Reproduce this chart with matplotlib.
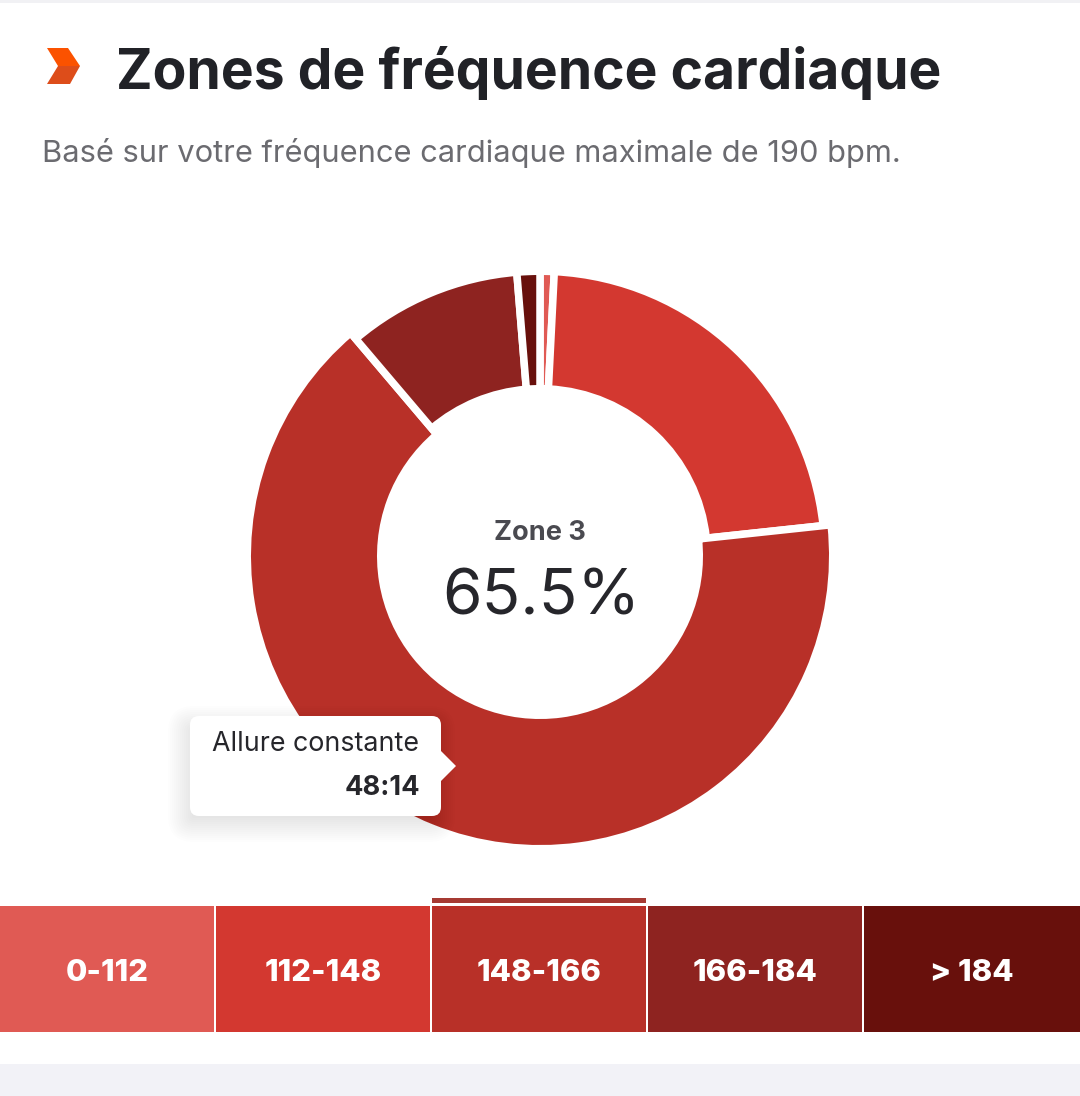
import matplotlib
matplotlib.use("Agg")
import matplotlib.pyplot as plt
from matplotlib.patches import FancyBboxPatch, Polygon, Rectangle

plt.rcParams['font.family'] = ['Inter', 'DejaVu Sans']

# Time share per heart-rate zone, in percent
zone_ranges = ['0-112', '112-148', '148-166', '166-184', '> 184']
zone_shares = [0.8, 22.5, 65.5, 9.9, 1.3]
zone_colors = ['#e05a54', '#d33830', '#b83028', '#8e2320', '#68100c']
active_zone = 2

title = 'Zones de fréquence cardiaque'
subtitle = 'Basé sur votre fréquence cardiaque maximale de 190 bpm.'
center_label = 'Zone 3'
center_value = '65.5%'
tooltip_label = 'Allure constante'
tooltip_value = '48:14'

W, H = 1080, 1096
fig = plt.figure(figsize=(W / 100, H / 100), dpi=100, facecolor='white')
ax = fig.add_axes([0, 0, 1, 1])
ax.set_xlim(0, W)
ax.set_ylim(H, 0)
ax.axis('off')

# Page background strips
ax.add_patch(Rectangle((0, 0), W, 3, fc='#f1f1f4', ec='none'))
ax.add_patch(Rectangle((0, 1064), W, 32, fc='#f2f2f7', ec='none'))

# Section marker
ax.add_patch(Polygon([(47, 48), (68, 48), (80, 66), (58, 66)], fc='#fb5200', ec='none'))
ax.add_patch(Polygon([(58, 66), (80, 66), (70, 84), (47, 84)], fc='#dd4d1a', ec='none'))

ax.text(115.5, 73, title, fontsize=39.75, fontweight='bold', color='#212227', va='center', ha='left')
ax.text(42.5, 153, subtitle, fontsize=22.2, color='#6b6b70', va='center', ha='left')

# Doughnut in its own pixel-scaled square axes; white wedge edges form the gaps
# and the selected zone is pushed outward and inward by a hover offset.
cx, cy, gap, hover = 540, 556, 7.5, 8
r_outer, r_inner = 281, 171
half = r_outer + hover + gap
pie_ax = fig.add_axes([(cx - half) / W, 1 - (cy + half) / H, 2 * half / W, 2 * half / H])
wedges, _ = pie_ax.pie(zone_shares, colors=zone_colors, startangle=90, counterclock=False,
                       radius=r_outer + gap / 2,
                       wedgeprops=dict(width=r_outer - r_inner + gap, edgecolor='white',
                                       linewidth=gap * 0.72, joinstyle='miter'))
wedges[active_zone].set_radius(r_outer + hover + gap / 2)
wedges[active_zone].set_width(r_outer - r_inner + 2 * hover + gap)
pie_ax.set_xlim(-half, half)
pie_ax.set_ylim(-half, half)
pie_ax.axis('off')

over = fig.add_axes([0, 0, 1, 1])
over.set_xlim(0, W)
over.set_ylim(H, 0)
over.axis('off')
over.patch.set_alpha(0)

over.text(540, 533, center_label, fontsize=19.5, fontweight='bold', color='#4a4a50', ha='center', va='center')
over.text(541, 598, center_value, fontsize=46, color='#26262b', ha='center', va='center')

# Tooltip with a soft drop shadow
bx, by, bw, bh = 190, 716, 251, 100
for grow in range(18, -8, -2):
    over.add_patch(FancyBboxPatch((bx - grow - 4, by + 8 - grow), bw + 2 * grow, bh + 2 * grow,
                                  boxstyle=f'round,pad=0,rounding_size={max(8 + grow, 2)}',
                                  fc='#000000', ec='none', alpha=0.006))
over.add_patch(FancyBboxPatch((bx, by), bw, bh, boxstyle='round,pad=0,rounding_size=9',
                              fc='white', ec='none'))
over.add_patch(Polygon([(440, 750), (456, 766), (440, 782)], fc='white', ec='none'))
over.text(418.5, 744, tooltip_label, fontsize=19.3, color='#26262b', ha='right', va='center')
over.text(420.5, 788, tooltip_value, fontsize=19.6, fontweight='bold', color='#26262b', ha='right', va='center')

# Zone legend along the bottom
cell_edges = [0, 216, 432, 648, 864, 1082]
for i, label in enumerate(zone_ranges):
    x0, x1 = cell_edges[i], cell_edges[i + 1] - 2
    over.add_patch(Rectangle((x0, 906), x1 - x0, 126, fc=zone_colors[i], ec='none'))
    over.text((x0 + x1) / 2, 973, label, fontsize=22.3, fontweight='heavy', color='white',
              ha='center', va='center')
    if i == active_zone:
        over.add_patch(Rectangle((x0, 898), x1 - x0, 5, fc='#a63a33', ec='none'))

fig.savefig('out.png', dpi=100, facecolor='white')
